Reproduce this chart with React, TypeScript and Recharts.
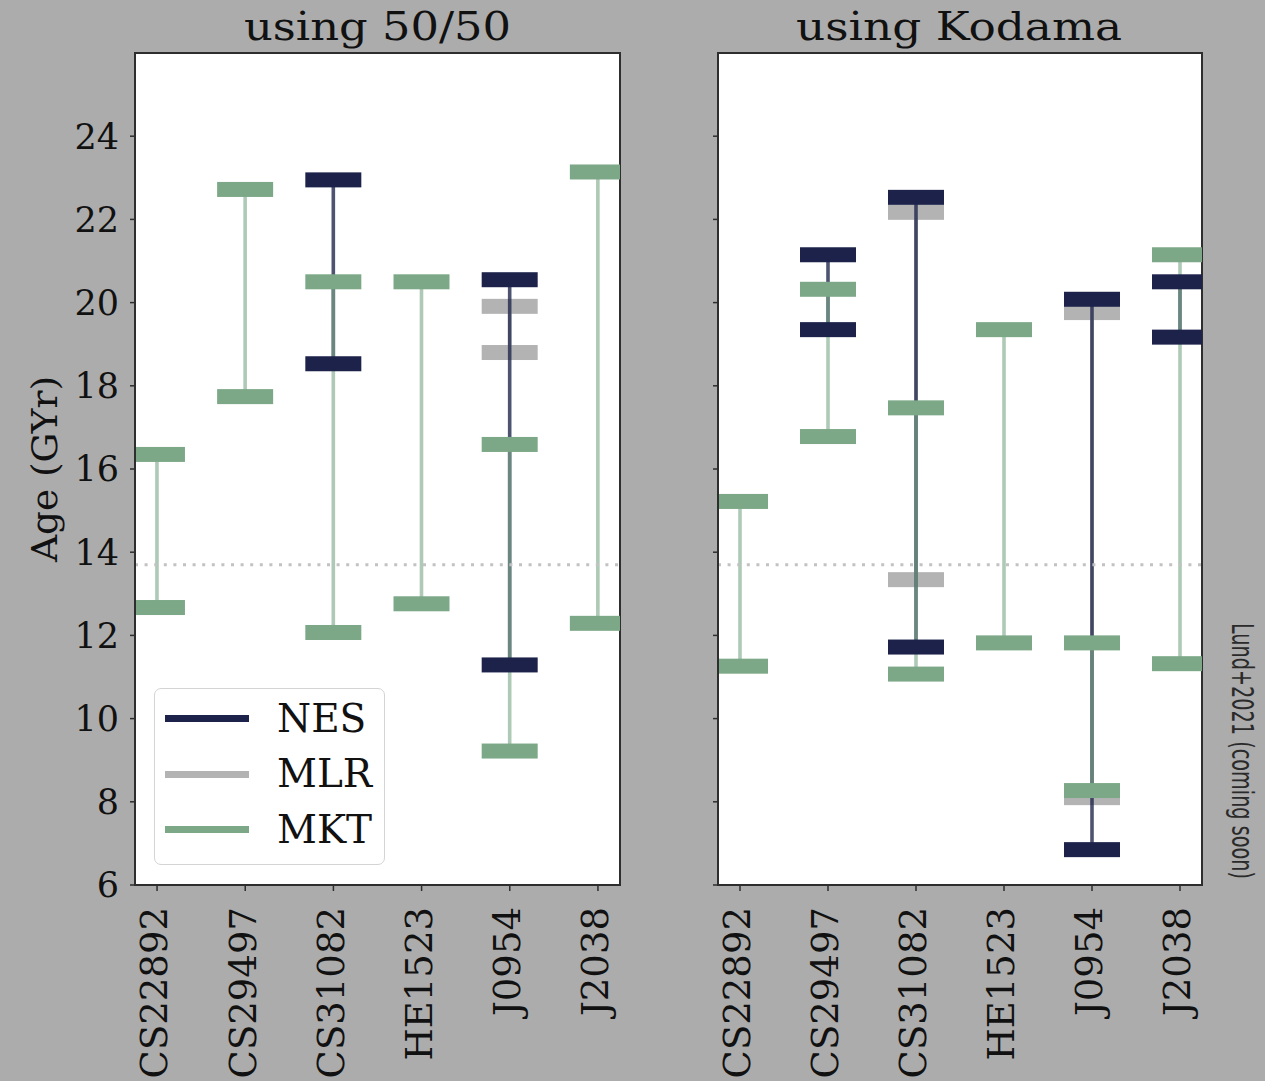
import React from 'react';
import {
  ComposedChart,
  Bar,
  XAxis,
  YAxis,
  CartesianGrid,
  ReferenceLine,
  ReferenceArea,
  Legend,
} from 'recharts';

type Range = [number, number] | null;

// ---------- data ----------
const categories = ['CS22892', 'CS29497', 'CS31082', 'HE1523', 'J0954', 'J2038'];
const categoryIndex = [0, 1, 2, 3, 4, 5];
const yTicks = [6, 8, 10, 12, 14, 16, 18, 20, 22, 24];
const yDomain: [number, number] = [6, 26];
const xDomain: [number, number] = [-0.25, 5.25];
const universeAge = 13.7;

const titles = ['using 50/50', 'using Kodama'];
const yLabel = 'Age (GYr)';
const credit = 'Lund+2021 (coming soon)';
const legendNames = ['NES', 'MLR', 'MKT'];

// panel "using 50/50"
const nes5050: Range[] = [null, null, [18.53, 22.95], null, [11.29, 20.55], null];
const mlr5050: Range[] = [null, null, null, null, [18.8, 19.91], null];
const mkt5050: Range[] = [[12.67, 16.35], [17.74, 22.72], [12.07, 20.5], [12.76, 20.5], [9.22, 16.59], [12.29, 23.14]];

// panel "using Kodama"
const nesKodama: Range[] = [null, [19.35, 21.15], [11.72, 22.53], null, [6.85, 20.08], [19.17, 20.5]];
const mlrKodama: Range[] = [null, null, [13.34, 22.17], null, [8.1, 19.76], null];
const mktKodama: Range[] = [[11.26, 15.22], [16.78, 20.32], [11.07, 17.47], [11.82, 19.35], [8.27, 11.82], [11.32, 21.15]];

// ---------- styles ----------
const SERIF = '"DejaVu Serif", serif';
const BG = '#acacac';
const SPINE = '#2e2e2e';
const COLORS: Record<string, string> = { NES: '#1c2249', MLR: '#b3b3b3', MKT: '#7ca887' };
const LINE_OPACITY: Record<string, number> = { NES: 0.78, MLR: 0.8, MKT: 0.62 };
const CAP_W = 56;
const CAP_H = 15;
const LINE_W = 3.6;

const makeData = (nes: Range[], mlr: Range[], mkt: Range[]) =>
  categories.map((name, idx) => ({ idx, name, NES: nes[idx], MLR: mlr[idx], MKT: mkt[idx] }));

const data5050 = makeData(nes5050, mlr5050, mkt5050);
const dataKodama = makeData(nesKodama, mlrKodama, mktKodama);

const geom = (props: any, key: string) => {
  const { x, y, width, height, payload } = props;
  if (!payload || !payload[key] || !isFinite(y) || !isFinite(height)) return null;
  const cx = x + width / 2;
  const top = Math.min(y, y + height);
  const bot = Math.max(y, y + height);
  return { x, width, cx, top, bot };
};

const lineShape = (key: string) => (props: any) => {
  const g = geom(props, key);
  if (!g) return <g />;
  return (
    <line x1={g.cx} x2={g.cx} y1={g.top} y2={g.bot} stroke={COLORS[key]} strokeOpacity={LINE_OPACITY[key]} strokeWidth={LINE_W} />
  );
};

const capShape = (key: string) => (props: any) => {
  const g = geom(props, key);
  if (!g) return <g />;
  return (
    <g>
      <rect x={g.x} y={g.top - CAP_H / 2} width={g.width} height={CAP_H} fill={COLORS[key]} />
      <rect x={g.x} y={g.bot - CAP_H / 2} width={g.width} height={CAP_H} fill={COLORS[key]} />
    </g>
  );
};

const fullShape = (key: string) => (props: any) => {
  const g = geom(props, key);
  if (!g) return <g />;
  return (
    <g>
      <line x1={g.cx} x2={g.cx} y1={g.top} y2={g.bot} stroke={COLORS[key]} strokeOpacity={LINE_OPACITY[key]} strokeWidth={LINE_W} />
      <rect x={g.x} y={g.top - CAP_H / 2} width={g.width} height={CAP_H} fill={COLORS[key]} />
      <rect x={g.x} y={g.bot - CAP_H / 2} width={g.width} height={CAP_H} fill={COLORS[key]} />
    </g>
  );
};

const XTick = (props: any) => {
  const { x, y, payload } = props;
  return (
    <text
      transform={`translate(${x},${y}) rotate(-90)`}
      textAnchor="end"
      dy="0.28em"
      fontFamily={SERIF}
      fontSize={37}
      fill="#111"
    >
      {categories[payload.value]}
    </text>
  );
};

const EmptyTick = () => <g />;

const YLabel = (props: any) => {
  const vb = props.viewBox || {};
  const cx = (vb.x || 0) + 45;
  const cy = (vb.y || 0) + (vb.height || 0) / 2;
  return (
    <text
      transform={`translate(${cx},${cy}) rotate(-90)`}
      textAnchor="middle"
      dominantBaseline="central"
      fontFamily={SERIF}
      fontSize={35}
      textLength={186}
      lengthAdjust="spacingAndGlyphs"
      fill="#111"
    >
      {yLabel}
    </text>
  );
};

const LegendBox = () => (
  <div
    style={{
      width: 231,
      height: 177,
      boxSizing: 'border-box',
      background: '#fff',
      border: '1.5px solid #d4d4d4',
      borderRadius: 7,
      position: 'relative',
      fontFamily: SERIF,
    }}
  >
    {legendNames.map((name, i) => (
      <div
        key={name}
        style={{
          position: 'absolute',
          left: 10,
          top: 29.5 + i * 55.6 - 20,
          height: 40,
          display: 'flex',
          alignItems: 'center',
        }}
      >
        <div style={{ width: 84, height: 7, background: COLORS[name] }} />
        <div style={{ marginLeft: 28, fontSize: 39, lineHeight: '40px', color: '#111' }}>{name}</div>
      </div>
    ))}
  </div>
);

const hiddenAxes = [1, 2, 3, 4];

function Panel(props: { data: any[]; left: boolean }) {
  const { data, left } = props;
  const yWidth = left ? 135 : 78;
  const rightMargin = left ? 20 : 78;
  return (
    <ComposedChart width={640} height={1081} data={data} margin={{ top: 53, right: rightMargin, bottom: 0, left: 0 }}>
      <CartesianGrid horizontal={false} vertical={false} fill="#ffffff" fillOpacity={1} />
      <XAxis
        xAxisId={0}
        type="number"
        dataKey="idx"
        domain={xDomain}
        ticks={categoryIndex}
        interval={0}
        allowDataOverflow
        height={196}
        tick={<XTick />}
        tickSize={6}
        tickMargin={16}
        axisLine={{ stroke: SPINE, strokeWidth: 2 }}
        tickLine={{ stroke: SPINE, strokeWidth: 1.5 }}
      />
      {hiddenAxes.map((id) => (
        <XAxis key={id} xAxisId={id} type="number" dataKey="idx" domain={xDomain} ticks={categoryIndex} allowDataOverflow hide />
      ))}
      <YAxis
        type="number"
        domain={yDomain}
        ticks={yTicks}
        interval={0}
        allowDataOverflow
        width={yWidth}
        tickSize={5}
        tickMargin={11}
        tick={left ? { fontFamily: SERIF, fontSize: 35, fill: '#111' } : <EmptyTick />}
        axisLine={{ stroke: SPINE, strokeWidth: 2 }}
        tickLine={{ stroke: SPINE, strokeWidth: 1.5 }}
        label={left ? <YLabel /> : undefined}
      />
      <ReferenceLine y={universeAge} stroke="#c2c2c2" strokeWidth={3} strokeDasharray="3 6.6" />
      <Bar xAxisId={0} dataKey="MLR" barSize={CAP_W} shape={fullShape('MLR')} isAnimationActive={false} />
      <Bar xAxisId={1} dataKey="NES" barSize={CAP_W} shape={lineShape('NES')} isAnimationActive={false} />
      <Bar xAxisId={2} dataKey="MKT" barSize={CAP_W} shape={lineShape('MKT')} isAnimationActive={false} />
      <Bar xAxisId={3} dataKey="NES" barSize={CAP_W} shape={capShape('NES')} isAnimationActive={false} />
      <Bar xAxisId={4} dataKey="MKT" barSize={CAP_W} shape={capShape('MKT')} isAnimationActive={false} />
      <ReferenceArea x1={xDomain[0]} x2={xDomain[1]} y1={yDomain[0]} y2={yDomain[1]} fill="none" fillOpacity={0} stroke={SPINE} strokeWidth={2} />
      {left && (
        <Legend
          layout="vertical"
          align="center"
          verticalAlign="middle"
          content={<LegendBox />}
          wrapperStyle={{ left: 154, top: 688, width: 231, height: 177 }}
        />
      )}
    </ComposedChart>
  );
}

export default function App() {
  return (
    <div style={{ position: 'fixed', left: 0, top: 0, width: 1265, height: 1081, background: BG, overflow: 'hidden' }}>
      <div style={{ position: 'absolute', left: 0, top: 0 }}>
        <Panel data={data5050} left />
      </div>
      <div style={{ position: 'absolute', left: 640, top: 0 }}>
        <Panel data={dataKodama} left={false} />
      </div>
      <svg width={1265} height={1081} style={{ position: 'absolute', left: 0, top: 0, pointerEvents: 'none' }}>
        <text x={377.5} y={40} textAnchor="middle" fontFamily={SERIF} fontSize={40} textLength={267} lengthAdjust="spacingAndGlyphs" fill="#111">
          {titles[0]}
        </text>
        <text x={959} y={40} textAnchor="middle" fontFamily={SERIF} fontSize={40} textLength={326} lengthAdjust="spacingAndGlyphs" fill="#111">
          {titles[1]}
        </text>
        <text
          transform="translate(1232,623) rotate(90)"
          textAnchor="start"
          fontFamily='"Liberation Sans Narrow", "DejaVu Sans Condensed", sans-serif'
          fontWeight={300}
          fontSize={30}
          textLength={256}
          lengthAdjust="spacingAndGlyphs"
          fill="#2a2a2a"
        >
          {credit}
        </text>
      </svg>
    </div>
  );
}
